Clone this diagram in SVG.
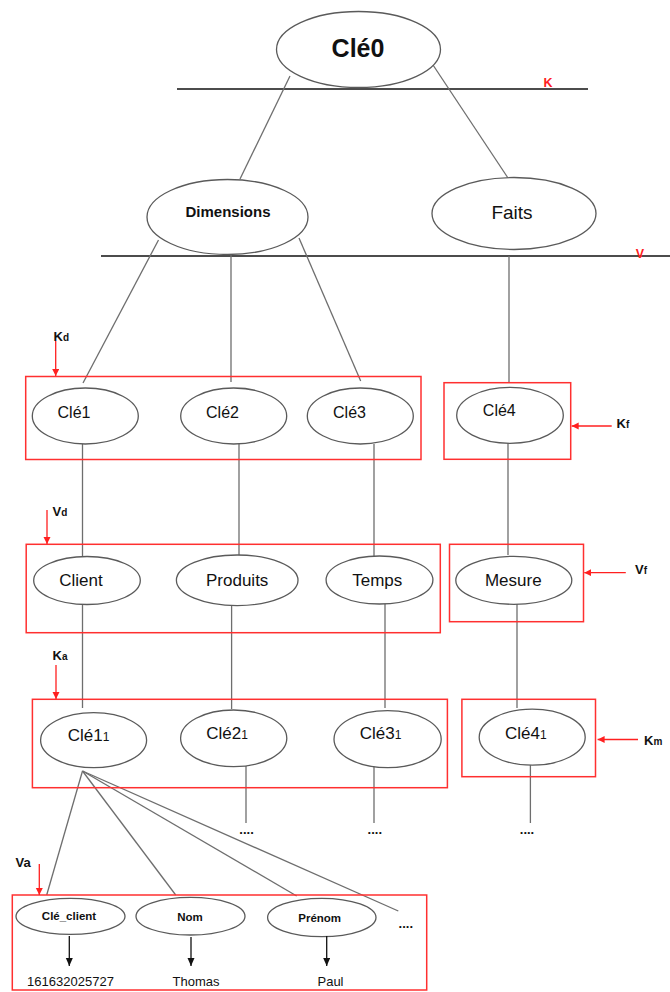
<svg xmlns="http://www.w3.org/2000/svg" width="670" height="992" viewBox="0 0 670 992">
<style>
.n ellipse{fill:#fff;stroke:#5a5a5a;stroke-width:1.3}
.c line{stroke:#6e6e6e;stroke-width:1.3}
.box{fill:none;stroke:#ff3030;stroke-width:1.5}
.h{stroke:#111;stroke-width:1.4}
text{font-family:"Liberation Sans",Arial,sans-serif;fill:#111}
.m{text-anchor:middle}
.b{font-weight:bold}
.lab{font-weight:bold;font-size:13px}
.sub{font-size:10px}
.red{fill:#ff2020;font-weight:bold;font-size:12.5px}
.ra{stroke:#ff2020;stroke-width:1.3}
.ba{stroke:#111;stroke-width:1.3}
</style>
<defs>
<marker id="mr" markerUnits="userSpaceOnUse" markerWidth="8" markerHeight="8" refX="7" refY="3.5" orient="auto"><path d="M0,0 L7,3.5 L0,7 z" fill="#ff2020"/></marker>
<marker id="mb" markerUnits="userSpaceOnUse" markerWidth="10" markerHeight="10" refX="8" refY="3.5" orient="auto"><path d="M0,0 L8,3.5 L0,7 z" fill="#111"/></marker>
</defs>

<!-- level lines -->
<g id="levels">
<line class="h" x1="177" y1="89" x2="588" y2="89"/>
<text class="red" x="548" y="86.5" text-anchor="middle">K</text>
<line class="h" x1="101" y1="256" x2="670" y2="256"/>
<text class="red" x="640" y="257.5" text-anchor="middle">V</text>
</g>

<!-- connectors -->
<g id="connectors" class="c">
<line x1="290" y1="76" x2="240" y2="179"/>
<line x1="433" y1="65" x2="508" y2="178"/>
<line x1="158.5" y1="240" x2="83" y2="383"/>
<line x1="231" y1="255" x2="231" y2="382"/>
<line x1="299" y1="238" x2="360.7" y2="381"/>
<line x1="509" y1="256" x2="509" y2="383"/>
<line x1="82.5" y1="444" x2="82.5" y2="557"/>
<line x1="239" y1="444" x2="239" y2="555"/>
<line x1="374" y1="444" x2="374" y2="556"/>
<line x1="508" y1="443" x2="508" y2="555"/>
<line x1="82.5" y1="604" x2="82.5" y2="708"/>
<line x1="231.6" y1="605" x2="231.6" y2="709"/>
<line x1="385" y1="604" x2="385" y2="708"/>
<line x1="517" y1="604" x2="517" y2="708"/>
<line x1="246" y1="766" x2="246" y2="823"/>
<line x1="374" y1="762" x2="374" y2="823"/>
<line x1="530.4" y1="765" x2="530.4" y2="823"/>
<line x1="82.5" y1="771" x2="46.7" y2="895"/>
<line x1="82.5" y1="771" x2="175.7" y2="895"/>
<line x1="82.5" y1="771" x2="296.7" y2="896"/>
<line x1="82.5" y1="771" x2="398.3" y2="911"/>
</g>

<!-- red boxes -->
<g id="groups">
<rect class="box" x="25.7" y="376.5" width="395.3" height="83"/>
<rect class="box" x="444" y="382.7" width="126.7" height="76.6"/>
<rect class="box" x="26.2" y="544.3" width="414.1" height="88.4"/>
<rect class="box" x="449.5" y="544.3" width="134" height="77.4"/>
<rect class="box" x="32.4" y="699.3" width="415" height="88.4"/>
<rect class="box" x="461.9" y="699.3" width="133.6" height="77.4"/>
<rect class="box" x="12.3" y="895" width="414.4" height="95"/>
</g>

<!-- nodes -->
<g id="cle0" class="n"><ellipse cx="358.5" cy="49.5" rx="82" ry="38"/><text class="m b" x="358" y="57" font-size="25">Clé0</text></g>
<g id="dimensions" class="n"><ellipse cx="227.5" cy="217" rx="80.5" ry="37.5"/><text class="m b" x="228" y="217" font-size="15">Dimensions</text></g>
<g id="faits" class="n"><ellipse cx="514" cy="213.5" rx="82" ry="36"/><text class="m" x="512" y="218.5" font-size="19">Faits</text></g>

<g id="cle1" class="n"><ellipse cx="85.3" cy="416" rx="53" ry="28"/><text class="m" x="74" y="417.5" font-size="16">Clé1</text></g>
<g id="cle2" class="n"><ellipse cx="233.7" cy="416" rx="53" ry="28"/><text class="m" x="222.5" y="417.5" font-size="16">Clé2</text></g>
<g id="cle3" class="n"><ellipse cx="360.3" cy="416" rx="53" ry="28"/><text class="m" x="349.5" y="417.5" font-size="16">Clé3</text></g>
<g id="cle4" class="n"><ellipse cx="510" cy="415.3" rx="53.3" ry="28"/><text class="m" x="499.3" y="416" font-size="16">Clé4</text></g>

<g id="client" class="n"><ellipse cx="87" cy="580.5" rx="53.3" ry="24"/><text class="m" x="81" y="586" font-size="17">Client</text></g>
<g id="produits" class="n"><ellipse cx="237.2" cy="580.3" rx="60.8" ry="25.3"/><text class="m" x="237.2" y="586" font-size="17">Produits</text></g>
<g id="temps" class="n"><ellipse cx="379.5" cy="580" rx="53.4" ry="24"/><text class="m" x="377.3" y="586" font-size="17">Temps</text></g>
<g id="mesure" class="n"><ellipse cx="513.8" cy="580.3" rx="58" ry="24"/><text class="m" x="513.3" y="586" font-size="17">Mesure</text></g>

<g id="cle11" class="n"><ellipse cx="93.6" cy="740.2" rx="53" ry="27.5"/><text class="m" x="88.5" y="740.5" font-size="17">Clé1<tspan font-size="12">1</tspan></text></g>
<g id="cle21" class="n"><ellipse cx="233.7" cy="738.3" rx="53.1" ry="28.3"/><text class="m" x="227" y="738.5" font-size="17">Clé2<tspan font-size="12">1</tspan></text></g>
<g id="cle31" class="n"><ellipse cx="387.6" cy="739.2" rx="53.6" ry="28.5"/><text class="m" x="380.5" y="738.5" font-size="17">Clé3<tspan font-size="12">1</tspan></text></g>
<g id="cle41" class="n"><ellipse cx="532.2" cy="737.2" rx="53" ry="28"/><text class="m" x="525.8" y="738.5" font-size="17">Clé4<tspan font-size="12">1</tspan></text></g>

<g id="cle_client" class="n"><ellipse cx="70.5" cy="916.3" rx="54.5" ry="18"/><text class="m b" x="69" y="920" font-size="11.5">Clé_client</text></g>
<g id="nom" class="n"><ellipse cx="190.5" cy="916.2" rx="54.5" ry="18.8"/><text class="m b" x="190" y="921" font-size="11.5">Nom</text></g>
<g id="prenom" class="n"><ellipse cx="321.8" cy="917.5" rx="54.2" ry="19.2"/><text class="m b" x="319.7" y="921.5" font-size="11.5">Prénom</text></g>

<!-- continuation dots -->
<g id="dots">
<text class="m b" x="246.6" y="834" font-size="13">....</text>
<text class="m b" x="374.8" y="834" font-size="13">....</text>
<text class="m b" x="527" y="834" font-size="13">....</text>
<text class="m b" x="405.8" y="928" font-size="13">....</text>
</g>

<!-- values -->
<g id="values">
<line class="ba" x1="69.3" y1="936" x2="69.3" y2="966" marker-end="url(#mb)"/>
<line class="ba" x1="191" y1="937" x2="191" y2="966" marker-end="url(#mb)"/>
<line class="ba" x1="326.7" y1="936" x2="326.7" y2="966" marker-end="url(#mb)"/>
<text class="m" x="70.5" y="986" font-size="13">161632025727</text>
<text class="m" x="196" y="986" font-size="13">Thomas</text>
<text class="m" x="330.5" y="986" font-size="13">Paul</text>
</g>

<!-- annotation labels -->
<g id="annotations">
<text class="lab" x="53.5" y="341">K<tspan class="sub">d</tspan></text>
<line class="ra" x1="55.7" y1="341" x2="55.7" y2="376" marker-end="url(#mr)"/>
<text class="lab" x="616.5" y="428">K<tspan class="sub">f</tspan></text>
<line class="ra" x1="611.7" y1="426" x2="571.7" y2="426" marker-end="url(#mr)"/>
<text class="lab" x="52.5" y="516">V<tspan class="sub">d</tspan></text>
<line class="ra" x1="47" y1="510" x2="47" y2="544" marker-end="url(#mr)"/>
<text class="lab" x="635" y="574">V<tspan class="sub">f</tspan></text>
<line class="ra" x1="625.8" y1="572.7" x2="584.3" y2="572.7" marker-end="url(#mr)"/>
<text class="lab" x="52.5" y="660">K<tspan class="sub">a</tspan></text>
<line class="ra" x1="56" y1="665" x2="56" y2="699" marker-end="url(#mr)"/>
<text class="lab" x="644" y="745">K<tspan class="sub">m</tspan></text>
<line class="ra" x1="638" y1="739.5" x2="597.6" y2="739.5" marker-end="url(#mr)"/>
<text class="lab" x="15.5" y="867">Va</text>
<line class="ra" x1="39.3" y1="864" x2="39.3" y2="895" marker-end="url(#mr)"/>
</g>
</svg>
